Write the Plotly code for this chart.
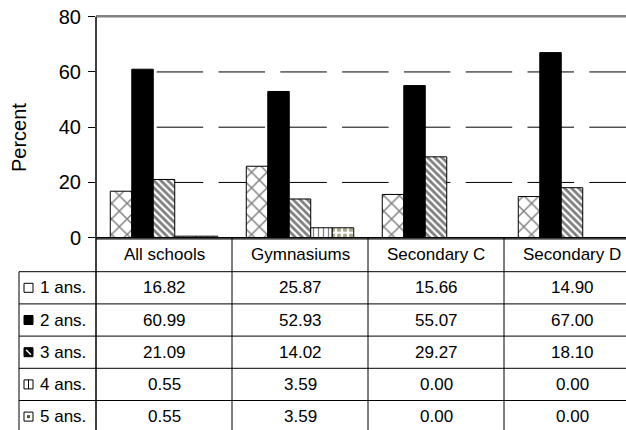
import plotly.graph_objects as go

categories = ["All schools", "Gymnasiums", "Secondary C", "Secondary D"]
series_names = ["1 ans.", "2 ans.", "3 ans.", "4 ans.", "5 ans."]
v1 = [16.82, 25.87, 15.66, 14.90]
v2 = [60.99, 52.93, 55.07, 67.00]
v3 = [21.09, 14.02, 29.27, 18.10]
v4 = [0.55, 3.59, 0.00, 0.00]
v5 = [0.55, 3.59, 0.00, 0.00]
y_ticks = [0, 20, 40, 60, 80]

series_values = [v1, v2, v3, v4, v5]

W, H = 626, 430
FONT = "Liberation Sans, Arial, sans-serif"
FS = 17
FS_AX = 20

def py(p):  # pixel y -> paper y
    return 1 - p / H

def px(p):  # pixel x -> paper x
    return p / W

patterns = [
    dict(shape="x", fgcolor="black", bgcolor="white", size=11, solidity=0.25),
    dict(shape="", fgcolor="black", bgcolor="black"),
    dict(shape="\\", fgcolor="black", bgcolor="white", size=5, solidity=0.55),
    dict(shape="|", fgcolor="black", bgcolor="white", size=5, solidity=0.25),
    dict(shape=".", fgcolor="#55551f", bgcolor="white", size=6, solidity=0.45),
]
colors = ["white", "black", "white", "white", "white"]

fig = go.Figure()
for name, vals, pat, col in zip(series_names, series_values, patterns, colors):
    fig.add_trace(go.Bar(
        x=categories, y=vals, name=name,
        marker=dict(color=col, pattern=pat, line=dict(color="black", width=1)),
        showlegend=False,
    ))

x0_px = 96
plot_top, plot_bot = 16.7, 237.7
cat_px = 136
rng_hi = -0.5 + (W - x0_px) / cat_px

fig.update_layout(
    width=W, height=H,
    margin=dict(l=0, r=0, t=0, b=0, autoexpand=False),
    paper_bgcolor="white", plot_bgcolor="white",
    barmode="group", bargap=0.21, bargroupgap=0,
    font=dict(family=FONT, size=FS, color="black"),
    xaxis=dict(domain=[px(x0_px), 1], range=[-0.5, rng_hi], showticklabels=False,
               showgrid=False, zeroline=False, ticks="", automargin=False,
               showline=True, linecolor="#808080", linewidth=1.5, mirror=True),
    yaxis=dict(domain=[py(plot_bot), py(plot_top)], range=[0, 80], automargin=False,
               tickvals=y_ticks, ticktext=[str(t) for t in y_ticks],
               ticks="outside", ticklen=7, tickcolor="black", tickwidth=1,
               showline=False, zeroline=False, showgrid=False,
               ticklabeloverflow="allow",
               tickfont=dict(family=FONT, size=FS_AX), ticklabelstandoff=3),
)

shapes = []
# dashed gridlines (pattern starts a little right of the axis, as in the reference)
for t in y_ticks[1:-1]:
    shapes.append(dict(type="line", xref="paper", yref="y", x0=px(156.7), x1=1, y0=t, y1=t,
                       layer="below", line=dict(color="black", width=1, dash="46.5px,15.3px")))
# top border (gray)
shapes.append(dict(type="line", xref="paper", yref="paper", x0=px(x0_px), x1=1,
                   y0=py(plot_top), y1=py(plot_top), line=dict(color="#808080", width=1.5)))
# baseline
shapes.append(dict(type="line", xref="paper", yref="paper", x0=px(x0_px), x1=1,
                   y0=py(plot_bot), y1=py(plot_bot), line=dict(color="black", width=1.5)))
# left axis line, running through the table
shapes.append(dict(type="line", xref="paper", yref="paper", x0=px(x0_px), x1=px(x0_px),
                   y0=0, y1=py(plot_top), line=dict(color="black", width=1.5)))
# category column separators
for i in range(len(categories) - 1):
    shapes.append(dict(type="line", xref="x", yref="paper", x0=i + 0.5, x1=i + 0.5,
                       y0=0, y1=py(plot_bot), line=dict(color="black", width=1)))
# table row lines
row_top = 271.7
row_h = 32.2
for r in range(len(series_names)):
    yy = row_top + r * row_h
    shapes.append(dict(type="line", xref="paper", yref="paper", x0=px(19), x1=1,
                       y0=py(yy), y1=py(yy), line=dict(color="black", width=1)))
# table left border
shapes.append(dict(type="line", xref="paper", yref="paper", x0=px(19), x1=px(19),
                   y0=0, y1=py(row_top), line=dict(color="black", width=1)))

annotations = []
# y-axis title
annotations.append(dict(x=px(19), y=py(138), xref="paper", yref="paper", text="Percent",
                        textangle=-90, showarrow=False, xanchor="center", yanchor="middle",
                        font=dict(family=FONT, size=FS_AX)))
# header row
for i, c in enumerate(categories):
    annotations.append(dict(x=i, y=py((plot_bot + row_top) / 2), xref="x", yref="paper",
                            text=c, showarrow=False, xanchor="center", yanchor="middle",
                            font=dict(family=FONT, size=FS)))
# data rows
for r, (name, vals) in enumerate(zip(series_names, series_values)):
    yc = py(row_top + (r + 0.5) * row_h)
    annotations.append(dict(x=px(38), y=yc, xref="paper", yref="paper", text=name,
                            showarrow=False, xanchor="left", yanchor="middle",
                            font=dict(family=FONT, size=FS)))
    for i, v in enumerate(vals):
        annotations.append(dict(x=i, y=yc, xref="x", yref="paper", text=f"{v:.2f}",
                                showarrow=False, xanchor="center", yanchor="middle",
                                font=dict(family=FONT, size=FS)))
    # legend key glyph
    kc = row_top + (r + 0.5) * row_h
    kx0, kx1 = 24, 33
    ky0, ky1 = kc - 4.5, kc + 4.5
    fillc = "black" if r in (1, 2) else "white"
    shapes.append(dict(type="rect", xref="paper", yref="paper",
                       x0=px(kx0), x1=px(kx1), y0=py(ky1), y1=py(ky0),
                       fillcolor=fillc, line=dict(color="black", width=1)))
    if r == 2:
        shapes.append(dict(type="line", xref="paper", yref="paper",
                           x0=px(kx0 + 2), x1=px(kx1 - 2), y0=py(ky0 + 2), y1=py(ky1 - 2),
                           line=dict(color="white", width=1.5)))
    if r == 3:
        shapes.append(dict(type="line", xref="paper", yref="paper",
                           x0=px((kx0 + kx1) / 2), x1=px((kx0 + kx1) / 2), y0=py(ky0), y1=py(ky1),
                           line=dict(color="black", width=1)))
    if r == 4:
        shapes.append(dict(type="rect", xref="paper", yref="paper",
                           x0=px(kx0 + 3), x1=px(kx1 - 3), y0=py(ky1 - 3), y1=py(ky0 + 3),
                           fillcolor="#55551f", line=dict(width=0)))

fig.update_layout(shapes=shapes, annotations=annotations)
fig.write_html(
    "out.html",
    config={"displayModeBar": False},
    post_script="document.body.style.margin='0';document.body.style.overflow='hidden';",
)
